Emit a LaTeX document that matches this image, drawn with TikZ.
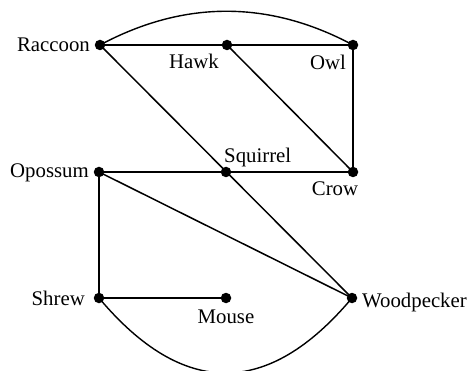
\documentclass[tikz,border=0pt]{standalone}
\usepackage{fontspec}
\setmainfont{Liberation Serif}
\begin{document}
\begin{tikzpicture}[x=1pt,y=-1pt,
  vtx/.style={circle,fill=black,inner sep=0pt,minimum size=10.5pt},
  lab/.style={inner sep=0pt,font=\fontsize{20.8}{24}\selectfont},
  thk/.style={line width=2.3pt},
  thn/.style={line width=1.5pt},
  arcl/.style={line width=1.4pt}]
\useasboundingbox (0,0) rectangle (473,371);
\clip (0,0) rectangle (473,371);
% vertices
\node[vtx] (rac) at (100,45) {};
\node[vtx] (haw) at (227,45) {};
\node[vtx] (owl) at (353,45) {};
\node[vtx] (opo) at (99,172) {};
\node[vtx] (squ) at (226,172) {};
\node[vtx] (cro) at (353,172) {};
\node[vtx] (shr) at (99,298) {};
\node[vtx] (mou) at (226,298) {};
\node[vtx] (woo) at (352,298) {};
% labels
\node[lab,anchor=base east] (racl) at (90,52) {Raccoon};
\node[lab,anchor=base] (hawl) at (194,69) {Hawk};
\node[lab,anchor=base] (owll) at (328,70) {Owl};
\node[lab,anchor=base east] (opol) at (89,178) {Opossum};
\node[lab,anchor=base west] (squl) at (224,163) {Squirrel};
\node[lab,anchor=base] (crol) at (335,196) {Crow};
\node[lab,anchor=base east] (shrl) at (85,305) {Shrew};
\node[lab,anchor=base] (moul) at (226,323) {Mouse};
\node[lab,anchor=base west] (wool) at (362,307) {Woodpecker};
% edges
\draw[thk] (rac.center) -- (haw.center);
\draw[thk] (haw.center) -- (owl.center);
\draw[thk] (owl.center) -- (cro.center);
\draw[thk] (opo.center) -- (shr.center);
\draw[thk] (shr.center) -- (mou.center);
\draw[thn] (opo.center) -- (squ.center);
\draw[thn] (squ.center) -- (cro.center);
\draw[thn] (haw.center) -- (cro.center);
\draw[thn] (rac.center) -- (woo.center);
\draw[thn] (opo.center) -- (woo.center);
\draw[arcl] (rac.center) .. controls +(84,-45) and +(-84,-45) .. (owl.center);
\draw[arcl] (shr.center) .. controls +(84,100) and +(-84,100) .. (woo.center);
\end{tikzpicture}
\end{document}
